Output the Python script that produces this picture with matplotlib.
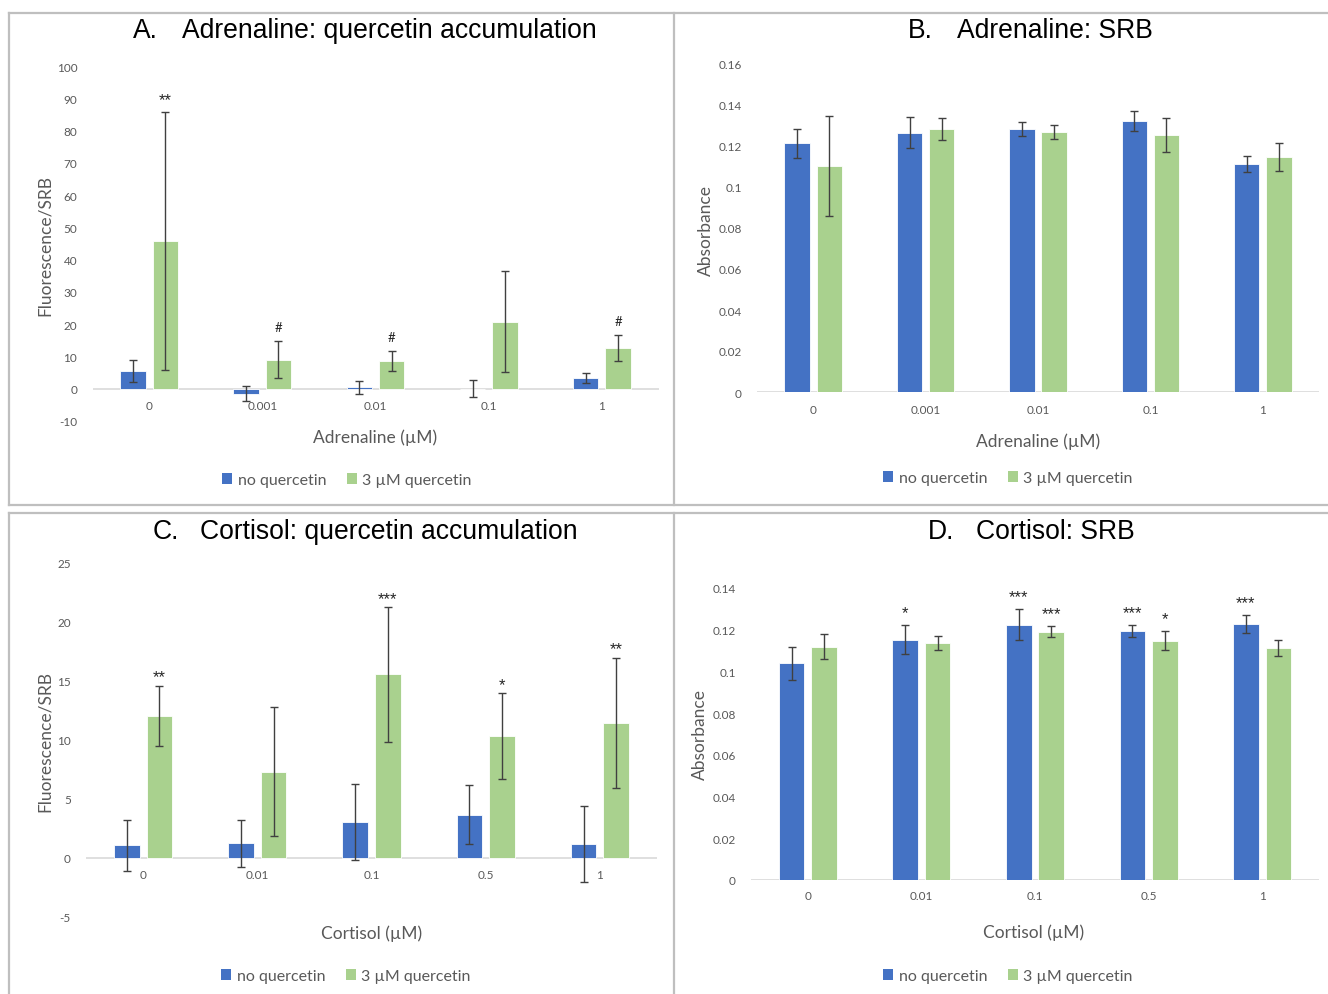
import numpy as np
import matplotlib
matplotlib.use("Agg")
import matplotlib.pyplot as plt
from matplotlib.lines import Line2D
from matplotlib.patches import Patch

# ---- data ----
adr_labels = ["0", "0.001", "0.01", "0.1", "1"]
cort_labels = ["0", "0.01", "0.1", "0.5", "1"]

# A. Adrenaline: quercetin accumulation (fluorescence / SRB)
a_noq = [5.4, -1.5, 0.4, 0.05, 3.4]
a_noq_err = [3.4, 2.2, 1.95, 2.65, 1.6]
a_q = [45.8, 9.0, 8.6, 20.8, 12.6]
a_q_err = [40.0, 5.8, 3.0, 15.7, 4.0]
a_noq_marks = ["", "", "", "", ""]
a_q_marks = ["**", "#", "#", "", "#"]

# B. Adrenaline: SRB absorbance
b_noq = [0.1213, 0.1265, 0.1283, 0.1323, 0.1112]
b_noq_err = [0.0072, 0.0077, 0.0032, 0.0050, 0.0039]
b_q = [0.1102, 0.1283, 0.1268, 0.1252, 0.1146]
b_q_err = [0.0243, 0.0055, 0.0036, 0.0083, 0.0068]

# C. Cortisol: quercetin accumulation (fluorescence / SRB)
c_noq = [1.07, 1.24, 3.05, 3.67, 1.19]
c_noq_err = [2.16, 2.02, 3.25, 2.50, 3.22]
c_q = [12.06, 7.32, 15.56, 10.34, 11.44]
c_q_err = [2.54, 5.48, 5.69, 3.62, 5.50]
c_noq_marks = ["", "", "", "", ""]
c_q_marks = ["**", "", "***", "*", "**"]

# D. Cortisol: SRB absorbance
d_noq = [0.1039, 0.1152, 0.1224, 0.1194, 0.1227]
d_noq_err = [0.0080, 0.0070, 0.0073, 0.0030, 0.0043]
d_q = [0.1119, 0.1136, 0.1191, 0.1147, 0.1112]
d_q_err = [0.0060, 0.0033, 0.0025, 0.0046, 0.0040]
d_noq_marks = ["", "*", "***", "***", "***"]
d_q_marks = ["", "", "***", "*", ""]

series_names = ["no quercetin", "3 \u00b5M quercetin"]

# ---- style ----
BLUE = "#4472C4"
GREEN = "#A9D18E"
TXT = "#595959"
ERR = "#404040"
FONT = "Lato"
W, H = 1328, 995

fig = plt.figure(figsize=(W / 100, H / 100), dpi=100)


def fx(px):
    return px / W


def fy(py):
    return 1 - py / H


def panel(rect_px, labels, noq, noq_err, q, q_err, ylim, yticks,
          noq_marks=None, q_marks=None, mark_off=10, fmt="%g"):
    x0, y0, x1, y1 = rect_px
    ax = fig.add_axes([fx(x0), fy(y1), fx(x1 - x0), (y1 - y0) / H])
    x = np.arange(len(labels))
    bw = 0.225
    off = 0.143
    ekw = dict(ecolor=ERR, elinewidth=1.0, capsize=3.2, capthick=1.0)
    ax.bar(x - off, noq, bw, color=BLUE, edgecolor="white", linewidth=0.6,
           yerr=noq_err, error_kw=ekw, zorder=2)
    ax.bar(x + off, q, bw, color=GREEN, edgecolor="white", linewidth=0.6,
           yerr=q_err, error_kw=ekw, zorder=2)
    for marks, vals, errs, dx in ((noq_marks, noq, noq_err, -off), (q_marks, q, q_err, off)):
        if not marks:
            continue
        for i, m in enumerate(marks):
            if not m:
                continue
            if m.startswith("*"):
                ax.annotate(m, (x[i] + dx, vals[i] + errs[i]), xytext=(0, mark_off - 1.5),
                            textcoords="offset points", ha="center", va="center",
                            fontsize=12, color="#262626", family="Liberation Sans")
            else:
                ax.annotate(m, (x[i] + dx, vals[i] + errs[i]), xytext=(0, mark_off),
                            textcoords="offset points", ha="center", va="center",
                            fontsize=9.5, color="#262626", family=FONT)
    ax.set_xlim(-0.5, len(labels) - 0.5)
    ax.set_ylim(*ylim)
    ax.set_yticks(yticks)
    ax.set_yticklabels([fmt % t for t in yticks])
    ax.set_xticks(x)
    ax.set_xticklabels([])
    for s in ax.spines.values():
        s.set_visible(False)
    ax.axhline(0, color="#D9D9D9", lw=1.2, zorder=1)
    ax.tick_params(axis="both", length=0, labelsize=8.5, labelcolor=TXT)
    ax.tick_params(axis="y", pad=11)
    for t in ax.get_yticklabels():
        t.set_family(FONT)
    return ax, x


def put_xlabels(ax, x, labels, ypx):
    # category labels sit just below the zero line
    for xi, lab in zip(x, labels):
        xd = ax.transData.transform((xi, 0))[0]
        fig.text(xd / W, fy(ypx), lab, ha="center", va="center", fontsize=8.5,
                 color=TXT, family=FONT)


def title(letter, text, xl, xt, ypx):
    fig.text(fx(xl), fy(ypx), letter, ha="left", va="center", fontsize=19.1,
             family="Liberation Sans", color="black")
    fig.text(fx(xt), fy(ypx), text, ha="left", va="center", fontsize=19.1,
             family="Liberation Sans", color="black")


def legend(cx, cy):
    handles = [Patch(facecolor=BLUE), Patch(facecolor=GREEN)]
    fig.legend(handles, series_names, loc="center", bbox_to_anchor=(fx(cx), fy(cy)),
               ncol=2, frameon=False, handlelength=0.62, handleheight=0.62,
               handletextpad=0.35, columnspacing=1.3,
               prop=dict(family=FONT, size=11.5), labelcolor=TXT)


def axis_titles(xl_x, xl_y, yl_x, yl_y, xlabel, ylabel):
    fig.text(fx(xl_x), fy(xl_y), xlabel, ha="center", va="center", fontsize=12.5,
             color=TXT, family=FONT)
    fig.text(fx(yl_x), fy(yl_y), ylabel, ha="center", va="center", fontsize=12.5,
             color=TXT, family=FONT, rotation=90)


# A
axA, xA = panel((92.5, 67, 658.5, 422), adr_labels, a_noq, a_noq_err, a_q, a_q_err,
                (-10, 100), list(range(-10, 101, 10)),
                a_noq_marks, a_q_marks, mark_off=10)
put_xlabels(axA, xA, adr_labels, 407)
axis_titles(375, 438, 45, 245, "Adrenaline (\u00b5M)", "Fluorescence/SRB")
legend(347, 481)
title("A.", "Adrenaline: quercetin accumulation", 133, 182, 31)

# B
axB, xB = panel((757, 65, 1319, 393), adr_labels, b_noq, b_noq_err, b_q, b_q_err,
                (0, 0.16), [0, 0.02, 0.04, 0.06, 0.08, 0.1, 0.12, 0.14, 0.16])
put_xlabels(axB, xB, adr_labels, 410)
axis_titles(1038, 442, 706, 230, "Adrenaline (\u00b5M)", "Absorbance")
legend(1008, 479)
title("B.", "Adrenaline: SRB", 908, 957, 31)

# C
axC, xC = panel((86, 564, 657, 918), cort_labels, c_noq, c_noq_err, c_q, c_q_err,
                (-5, 25), [-5, 0, 5, 10, 15, 20, 25],
                c_noq_marks, c_q_marks, mark_off=8)
put_xlabels(axC, xC, cort_labels, 876)
axis_titles(372, 934, 45, 741, "Cortisol (\u00b5M)", "Fluorescence/SRB")
legend(346, 977)
title("C.", "Cortisol: quercetin accumulation", 153, 200, 532)

# D
axD, xD = panel((751, 589, 1319, 881), cort_labels, d_noq, d_noq_err, d_q, d_q_err,
                (0, 0.14), [0, 0.02, 0.04, 0.06, 0.08, 0.1, 0.12, 0.14],
                d_noq_marks, d_q_marks, mark_off=10.5)
put_xlabels(axD, xD, cort_labels, 897)
axis_titles(1034, 933, 700, 735, "Cortisol (\u00b5M)", "Absorbance")
legend(1008, 977)
title("D.", "Cortisol: SRB", 928, 976, 532)

# table-style frame around the four panels
GRID = "#BFBFBF"


def hline(ypx, x0=9, x1=W):
    fig.add_artist(Line2D([fx(x0), fx(x1)], [fy(ypx), fy(ypx)], color=GRID, lw=1.6,
                          transform=fig.transFigure))


def vline(xpx, y0, y1):
    fig.add_artist(Line2D([fx(xpx), fx(xpx)], [fy(y0), fy(y1)], color=GRID, lw=1.6,
                          transform=fig.transFigure))


hline(14)
hline(506)
hline(514)
vline(9, 14, 506)
vline(673.5, 14, 506)
vline(9, 514, H)
vline(673.5, 514, H)

fig.savefig("out.png", dpi=100)
